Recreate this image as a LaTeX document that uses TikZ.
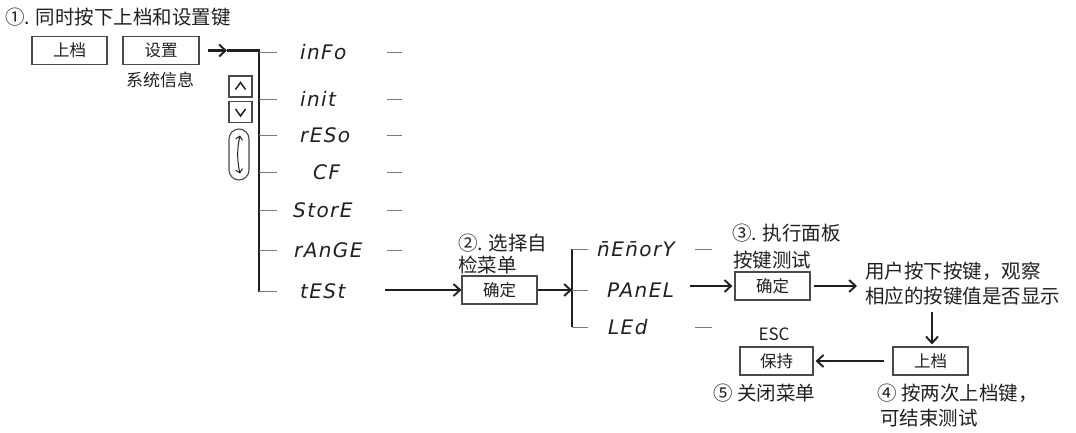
\documentclass[tikz,border=0pt]{standalone}
\usepackage{fontspec}
\setmainfont{Noto Sans CJK SC}
\newfontfamily\segfont{DejaVu Sans}[LetterSpace=7]
\usetikzlibrary{arrows.meta}
\definecolor{ink}{HTML}{231F20}
\definecolor{boxc}{HTML}{4A4A4A}
\definecolor{twigc}{HTML}{7A7A7A}
\begin{document}
\begin{tikzpicture}[x=1pt,y=-1pt,
  txt/.style={inner sep=0pt, text=ink, anchor=west, font=\fontsize{19.5}{22}\selectfont},
  btn/.style={draw=boxc, line width=1.2pt, minimum width=75pt, minimum height=28pt, inner sep=0pt, text=ink, font=\fontsize{16.5}{18}\selectfont},
  seg/.style={inner sep=0pt, text=ink, anchor=west, font=\segfont\itshape\fontsize{20}{22}\selectfont},
  spine/.style={line width=2.7pt, draw=ink},
  arr/.style={line width=2.1pt, draw=ink, -{Straight Barb[length=6.5pt,width=12pt,line width=1.9pt]}},
  twig/.style={line width=1pt, draw=twigc},
  dashmark/.style={line width=1pt, draw=twigc},
  keybox/.style={draw=boxc, line width=1.1pt, minimum width=23pt, minimum height=21pt, inner sep=0pt}]
\useasboundingbox[fill=white] (0,0) rectangle (1076,432);

% ---- step 1 ----
\node[txt] (title) at (5,17) {①. 同时按下上档和设置键};
\node[btn] (shang1) at (69.5,50.5) {上档};
\node[btn, minimum width=76pt] (shezhi) at (161,50.5) {设置};
\node[txt, anchor=center, font=\fontsize{17}{19}\selectfont] (sysinfo) at (160,80) {系统信息};

\coordinate (a1) at (227,50.5);
\coordinate (sp1top) at (259,50.5);
\coordinate (sp1bot) at (259,292);
\draw[arr] ([xshift=8pt]shezhi.east) -- (a1);
\draw[spine] (a1) -- (sp1top) -- (sp1bot);

% up / down keys and knob
\node[keybox] (upk) at (240.5,86.5) {};
\node[keybox] (dnk) at (240.5,112) {};
\draw[ink, line width=1.5pt] ([xshift=-5pt,yshift=-3pt]upk.center) -- ([yshift=4pt]upk.center) -- ([xshift=5pt,yshift=-3pt]upk.center);
\draw[ink, line width=1.5pt] ([xshift=-5pt,yshift=3pt]dnk.center) -- ([yshift=-4pt]dnk.center) -- ([xshift=5pt,yshift=3pt]dnk.center);
\node[draw=boxc, line width=1.1pt, rounded corners=10pt, minimum width=20pt, minimum height=51pt, inner sep=0pt] (knob) at (239,154.5) {};
\draw[ink, line width=1pt, {Straight Barb[length=3.5pt,width=7pt]}-{Straight Barb[length=3.5pt,width=7pt]}]
  ([xshift=1pt,yshift=19pt]knob.center) .. controls ([xshift=-2pt,yshift=6pt]knob.center) and ([xshift=-2pt,yshift=-6pt]knob.center) .. ([xshift=1pt,yshift=-19pt]knob.center);

% menu items
\foreach \id/\yy/\xx/\lab in {info/52/300/inFo, init/99/300/init, reso/135/300/rESo, cf/172/313/CF, store/210/293/StorE, range/250/294/rAnGE, test/291/300/tESt}{
  \coordinate (br-\id) at (259,\yy);
  \draw[twig] (br-\id) -- ++(18,0);
  \node[seg] (\id) at (\xx,\yy) {\lab};
}
\foreach \id/\yy in {info/52, init/99, reso/135, cf/172, store/210, range/250}{
  \coordinate (dm-\id) at (387,\yy);
  \draw[dashmark] (dm-\id) -- ++(15,0);
}

% ---- step 2 ----
\node[txt] (s2a) at (458,243) {②. 选择自};
\node[txt] (s2b) at (458,265) {检菜单};
\node[btn] (ok2) at (499.5,290) {确定};
\coordinate (t2) at (385,290);
\draw[arr] (t2) -- (ok2.west);

\coordinate (sp2top) at (572,249);
\coordinate (sp2mid) at (572,290);
\coordinate (sp2bot) at (572,327);
\draw[arr] (ok2.east) -- (sp2mid);
\draw[spine] (sp2top) -- (sp2bot);
\foreach \id/\yy/\xx/\lab in {mem/249/597/n̄En̄orY, panel/290/607/PAnEL, led/327/608/LEd}{
  \coordinate (br2-\id) at (572,\yy);
  \draw[twig] (br2-\id) -- ++(16,0);
  \node[seg] (\id) at (\xx,\yy) {\lab};
}
\foreach \id/\yy in {mem/249, led/327}{
  \coordinate (dm2-\id) at (695,\yy);
  \draw[dashmark] (dm2-\id) -- ++(17,0);
}

% ---- step 3 ----
\node[txt] (s3a) at (732,233) {③. 执行面板};
\node[txt] (s3b) at (733,260) {按键测试};
\node[btn] (ok3) at (772.5,286) {确定};
\coordinate (p3) at (690,286);
\draw[arr] (p3) -- ([xshift=-2pt]ok3.west);
\node[txt] (u1) at (865,271) {用户按下按键，观察};
\node[txt] (u2) at (865,296) {相应的按键值是否显示};
\draw[arr] ([xshift=3pt]ok3.east) -- ([xshift=-8pt]u1.west |- ok3.east);

% ---- step 4 / 5 ----
\node[btn] (shang2) at (930.5,361) {上档};
\coordinate (dtop) at (932,312);
\draw[arr] (dtop) -- ([yshift=2pt]shang2.north -| dtop);
\node[btn, minimum width=73pt] (baochi) at (776.5,361) {保持};
\node[txt, anchor=center, font=\fontsize{17}{19}\selectfont] (esc) at (774,334) {ESC};
\draw[arr] ([xshift=-8pt]shang2.west) -- ([xshift=2pt]baochi.east);
\node[txt] (s5) at (713,393) {⑤ 关闭菜单};
\node[txt] (s4a) at (877,393) {④ 按两次上档键，};
\node[txt] (s4b) at (880,418) {可结束测试};
\end{tikzpicture}
\end{document}
